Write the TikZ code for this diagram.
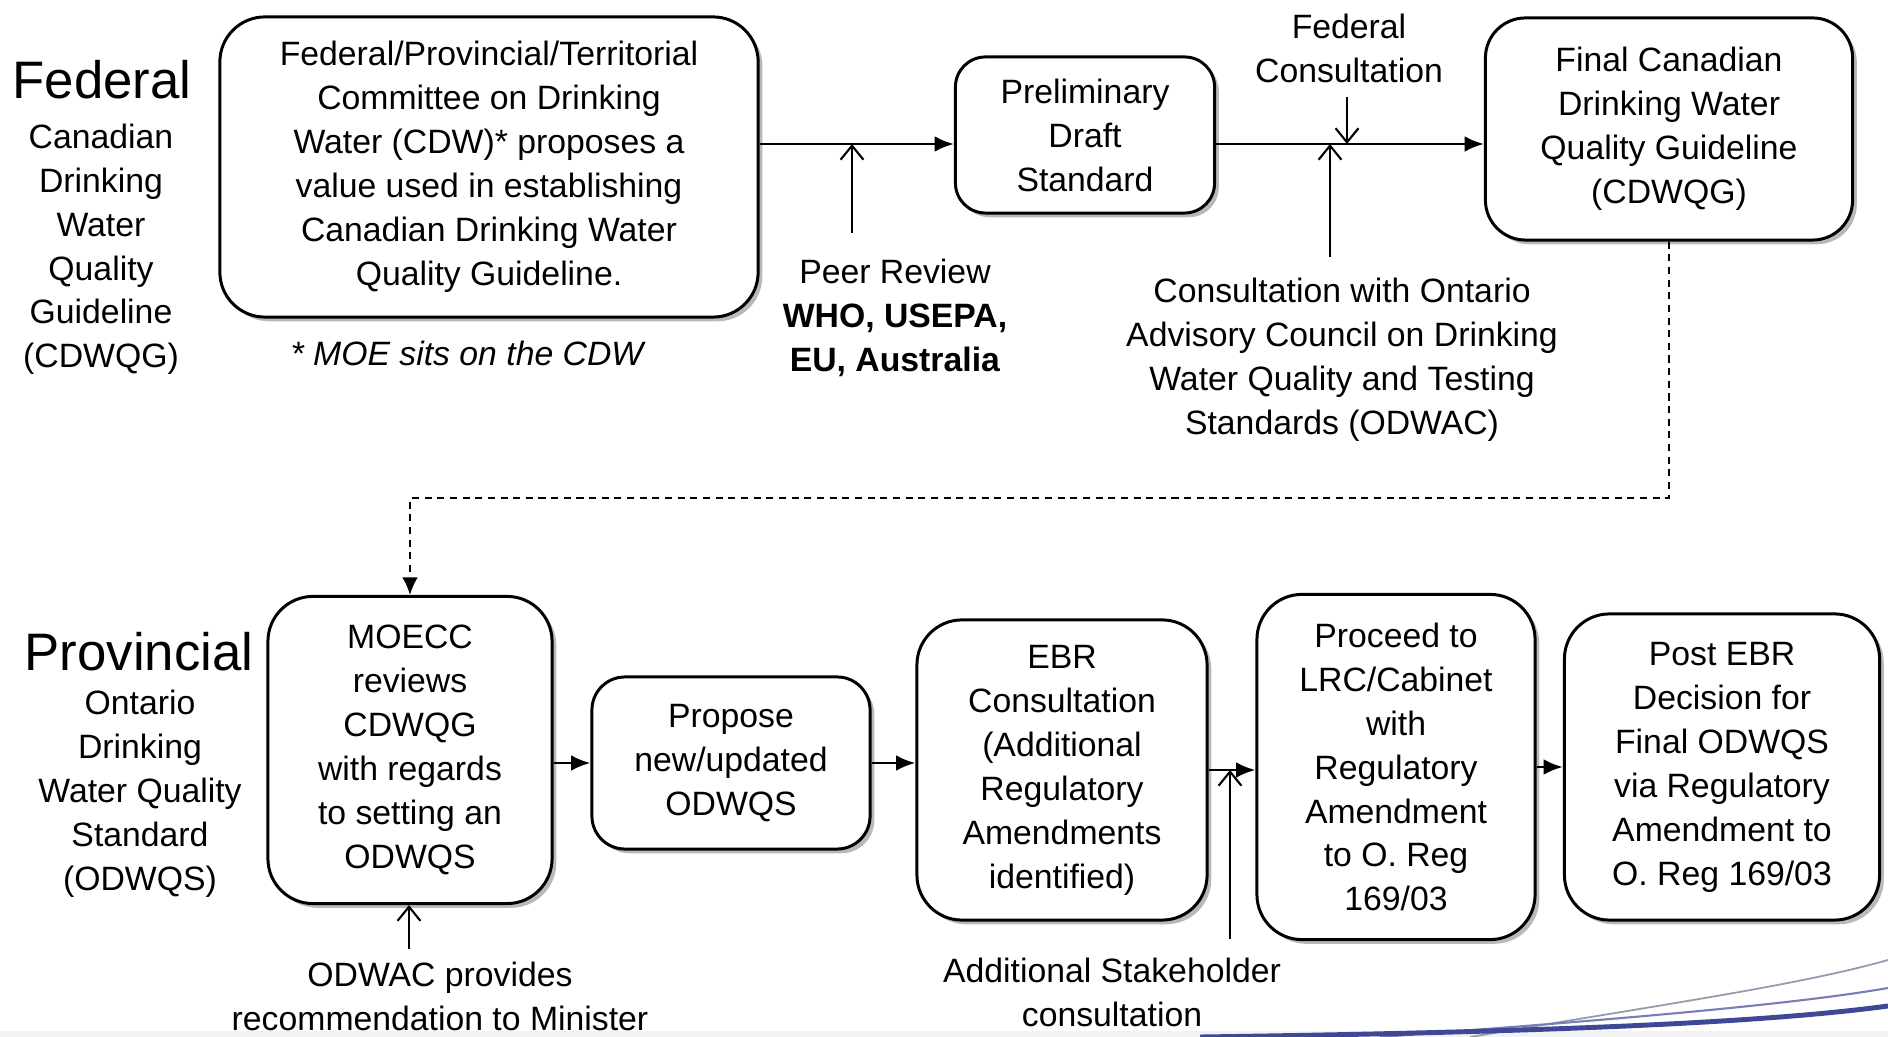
\documentclass[tikz,border=0pt]{standalone}
\usepackage{fontspec}
\setmainfont{Liberation Sans}
\usetikzlibrary{arrows.meta,shadows}

\newcommand\stepfont{\fontsize{9.6}{12.5}\selectfont}
\newcommand\tierfont{\fontsize{15}{17}\selectfont}
\definecolor{swooshblue}{RGB}{62,72,150}
\definecolor{swooshgray}{RGB}{150,152,172}

\begin{document}
\begin{tikzpicture}[x=0.01cm, y=-0.01cm]
                \useasboundingbox (0,0) rectangle (1888,1037);
                \fill[black!5] (0,1031) rectangle (1888,1037);
                \draw[swooshgray, line width=0.5pt] (1470,1037) .. controls (1660,1005) and (1800,985) .. (1888,960);
                \draw[swooshblue!70, line width=0.6pt] (1380,1037) .. controls (1610,1020) and (1790,1005) .. (1888,988);
                \draw[swooshblue, line width=1.4pt] (1200,1037) .. controls (1560,1032) and (1770,1022) .. (1888,1006);

                \coordinate (R1) at (0,144);
                \coordinate (D) at (0,498);
                \coordinate (peerfoot) at (852,233);
                \coordinate (odwacfoot) at (1330,257);
                \coordinate (fedctop) at (1347,97);
                \coordinate (advfoot) at (409,949);
                \coordinate (stakefoot) at (1230,939);

                \begin{scope}[every node/.style={draw, line width=0.85pt, fill=white, align=center, inner sep=2pt, font=\stepfont, drop shadow={shadow xshift=1.2pt, shadow yshift=-1.2pt, opacity=0.55}}]
                        \node [minimum width=5.38cm, minimum height=3cm, rounded corners=0.45cm] (F0) at (489,167) {Federal/Provincial/Territorial\\Committee on Drinking\\Water (CDW)* proposes a\\value used in establishing\\Canadian Drinking Water\\Quality Guideline.};
                        \node [minimum width=2.59cm, minimum height=1.56cm, rounded corners=0.3cm] (F1) at (1085,135) {Preliminary\\Draft\\Standard};
                        \node [minimum width=3.67cm, minimum height=2.22cm, rounded corners=0.4cm] (F2) at (1669,129) {Final Canadian\\Drinking Water\\Quality Guideline\\(CDWQG)};
                        \node [minimum width=2.84cm, minimum height=3.07cm, rounded corners=0.45cm] (P0) at (410,750) {MOECC\\reviews\\CDWQG\\with regards\\to setting an\\ODWQS};
                        \node [minimum width=2.78cm, minimum height=1.72cm, rounded corners=0.33cm] (P1) at (731,763) {Propose\\new/updated\\ODWQS};
                        \node [minimum width=2.9cm, minimum height=3cm, rounded corners=0.45cm] (P2) at (1062,770) {EBR\\Consultation\\(Additional\\Regulatory\\Amendments\\identified)};
                        \node [minimum width=2.78cm, minimum height=3.45cm, rounded corners=0.45cm] (P3) at (1396,767) {Proceed to\\LRC/Cabinet\\with\\Regulatory\\Amendment\\to O. Reg\\169/03};
                        \node [minimum width=3.15cm, minimum height=3.06cm, rounded corners=0.45cm] (P4) at (1722,767) {Post EBR\\Decision for\\Final ODWQS\\via Regulatory\\Amendment to\\O. Reg 169/03};
                \end{scope}

                \begin{scope}[every node/.style={align=center, inner sep=0pt, anchor=north, font=\stepfont}]
                        \node (Fh) at (102,60) {\tierfont Federal};
                        \node (Fs) at (101,123) {Canadian\\Drinking\\Water\\Quality\\Guideline\\(CDWQG)};
                        \node (star) at (467,340) {\itshape * MOE sits on the CDW};
                        \node (peer) at (895,258) {Peer Review\\\textbf{WHO, USEPA,}\\\textbf{EU, Australia}};
                        \node (fedc) at (1349,13) {Federal\\Consultation};
                        \node (odwac) at (1342,277) {Consultation with Ontario\\Advisory Council on Drinking\\Water Quality and Testing\\Standards (ODWAC)};
                        \node (Ph) at (139,632) {\tierfont Provincial};
                        \node (Ps) at (140,689) {Ontario\\Drinking\\Water Quality\\Standard\\(ODWQS)};
                        \node (advice) at (440,961) {ODWAC provides\\recommendation to Minister};
                        \node (stake) at (1112,957) {Additional Stakeholder\\consultation};
                \end{scope}

                \begin{scope}[every path/.style={line width=0.8pt, -{Latex[length=5.5pt, width=4.5pt]}}]
                        \path (F0.east |- R1) edge (F1.west |- R1);
                        \path (F1.east |- R1) edge (F2.west |- R1);
                        \path (P0.east |- P1) edge (P1.west);
                        \path (P1.east) edge (P1.east -| P2.west);
                        \path (P2.east) edge (P2.east -| P3.west);
                        \path (P3.east) edge (P3.east -| P4.west);
                \end{scope}

                \begin{scope}[every path/.style={line width=0.6pt, -{Straight Barb[length=4pt, width=6.5pt]}}]
                        \path (peerfoot) edge (peerfoot |- R1);
                        \path (odwacfoot) edge (odwacfoot |- R1);
                        \path (fedctop) edge (fedctop |- R1);
                        \path (advfoot) edge (advfoot |- P0.south);
                        \path (stakefoot) edge (stakefoot |- P2.east);
                \end{scope}

                \draw[line width=0.6pt, dash pattern=on 2pt off 1.6pt, -{Latex[length=5pt, width=4.5pt]}] (F2.south) -- (F2.south |- D) -- (P0.north |- D) -- (P0.north);
        \end{tikzpicture}
\end{document}
